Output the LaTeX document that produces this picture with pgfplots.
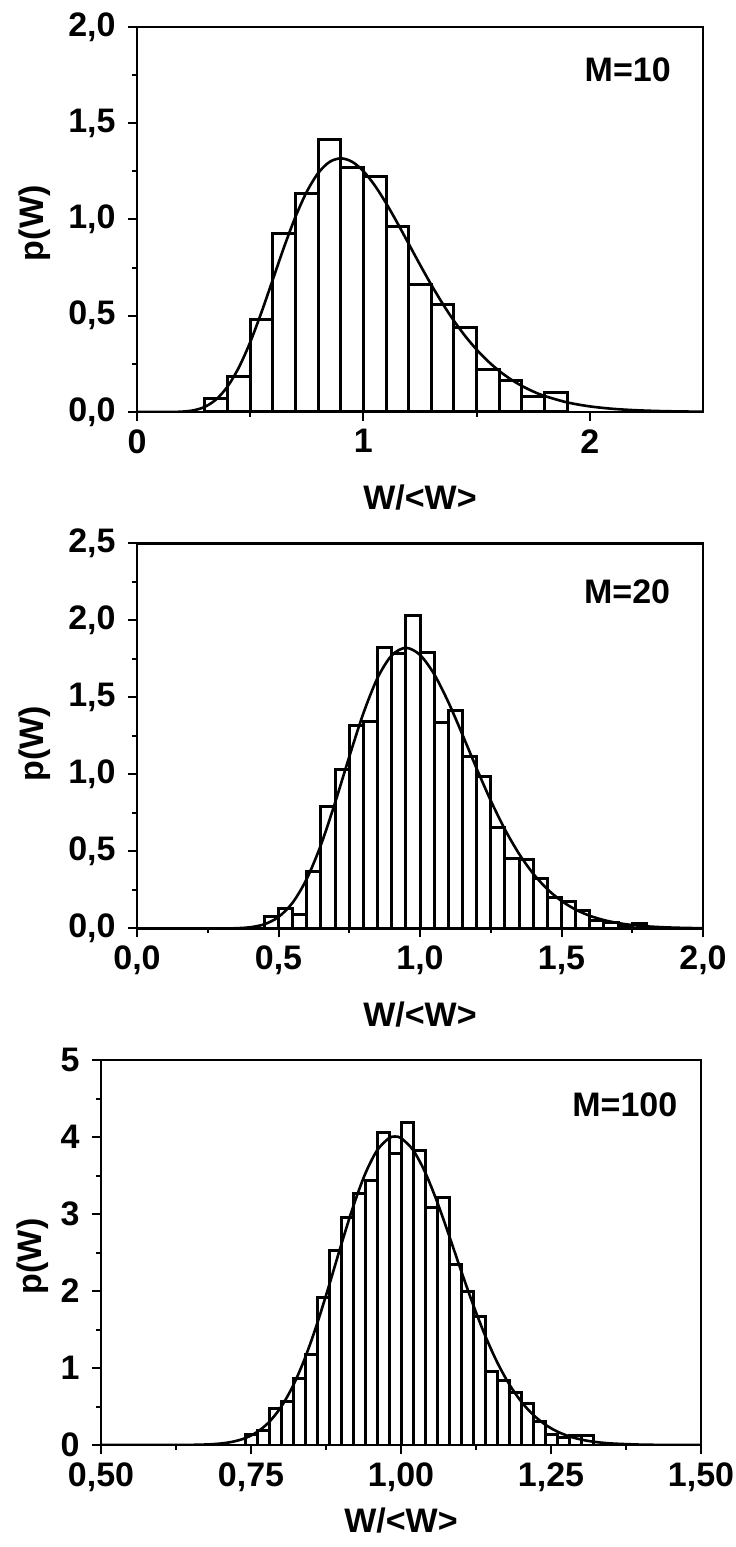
\documentclass[border=0pt]{standalone}
\usepackage{fontspec}
\setmainfont{Liberation Sans}
\usepackage{pgfplots}
\pgfplotsset{compat=1.18}
\newcommand\lbl{\fontsize{17}{20}\selectfont\bfseries}
\pgfplotsset{
  hist/.style={
    scale only axis, anchor=south west,
    axis line style={line width=1.2pt},
    tick align=outside, tick pos=left,
    major tick length=4.5pt, minor tick length=2.5pt,
    every tick/.append style={line width=1pt, black},
    tick label style={font=\lbl},
    /pgf/number format/assume math mode=true,
    xticklabel style={inner sep=0pt, yshift=-4pt},
    yticklabel style={inner sep=0pt, xshift=-6pt},
    label style={font=\lbl},
    xlabel style={at={(axis description cs:0.5,-0.2234)}, anchor=center},
    xlabel={W/<W>}, ylabel={p(W)},
  },
  bars/.style={ybar interval, fill=white, draw=black, line width=1.5pt},
  fit/.style={smooth, line width=1.3pt, black, no markers},
}
\begin{document}
\begin{tikzpicture}
\path[use as bounding box] (0,0) rectangle (367.5pt,773.5pt);
% ---------------- M=10
\begin{axis}[hist, at={(68.5pt,567.5pt)}, width=283pt, height=192.5pt,
  xmin=0, xmax=2.5, ymin=0, ymax=2,
  xtick={0,1,2}, minor xtick={0.5,1.5},
  ytick={0,0.5,1,1.5,2}, minor ytick={0.25,0.75,1.25,1.75},
  yticklabel style={/pgf/number format/fixed,/pgf/number format/fixed zerofill,/pgf/number format/precision=1,/pgf/number format/use comma},
  ylabel style={at={(axis description cs:-0.18,0.49)}, anchor=center}]
\addplot[bars] coordinates {(0.3,0.072)(0.4,0.186)(0.5,0.482)(0.6,0.927)(0.7,1.137)(0.8,1.418)(0.9,1.268)(1.0,1.224)(1.1,0.966)(1.2,0.664)(1.3,0.556)(1.4,0.44)(1.5,0.219)(1.6,0.163)(1.7,0.08)(1.8,0.10)(1.9,0)};
\addplot[fit] coordinates {(0,0)(0.1,0.00001)(0.15,0.0002)(0.2,0.0019)(0.25,0.0086)(0.3,0.027)(0.35,0.0656)(0.4,0.1323)(0.45,0.2316)(0.5,0.3626)(0.55,0.5186)(0.6,0.6883)(0.65,0.8581)(0.7,1.014)(0.75,1.1444)(0.8,1.2408)(0.85,1.2986)(0.9,1.3176)(0.95,1.3)(1.0,1.2511)(1.05,1.1772)(1.1,1.0852)(1.15,0.9821)(1.2,0.8737)(1.25,0.7651)(1.3,0.6606)(1.35,0.5627)(1.4,0.4735)(1.45,0.3938)(1.5,0.3241)(1.55,0.264)(1.6,0.2131)(1.65,0.1705)(1.7,0.1353)(1.75,0.1065)(1.8,0.0833)(1.9,0.0498)(2.0,0.0291)(2.1,0.0166)(2.2,0.0093)(2.3,0.0051)(2.4,0.0028)(2.5,0.0015)};
\node[font=\lbl] at (rel axis cs:0.867,0.888) {M=10};
\end{axis}
% ---------------- M=20
\begin{axis}[hist, at={(68.5pt,309.25pt)}, width=283pt, height=192.5pt,
  xmin=0, xmax=2, ymin=0, ymax=2.5,
  xtick={0,0.5,1,1.5,2}, minor xtick={0.25,0.75,1.25,1.75},
  ytick={0,0.5,1,1.5,2,2.5}, minor ytick={0.25,0.75,1.25,1.75,2.25},
  xticklabel style={/pgf/number format/fixed,/pgf/number format/fixed zerofill,/pgf/number format/precision=1,/pgf/number format/use comma},
  yticklabel style={/pgf/number format/fixed,/pgf/number format/fixed zerofill,/pgf/number format/precision=1,/pgf/number format/use comma},
  ylabel style={at={(axis description cs:-0.18,0.48)}, anchor=center}]
\addplot[bars] coordinates {(0.45,0.078)(0.50,0.13)(0.55,0.094)(0.60,0.368)(0.65,0.79)(0.70,1.035)(0.75,1.315)(0.80,1.345)(0.85,1.825)(0.90,1.787)(0.95,2.03)(1.00,1.795)(1.05,1.335)(1.10,1.415)(1.15,1.12)(1.20,0.984)(1.25,0.655)(1.30,0.455)(1.35,0.445)(1.40,0.325)(1.45,0.202)(1.50,0.178)(1.55,0.116)(1.60,0.055)(1.65,0.04)(1.70,0.02)(1.75,0.033)(1.80,0)};
\addplot[fit] coordinates {(0,0)(0.2,0)(0.25,0.00002)(0.3,0.0002)(0.35,0.0017)(0.4,0.008)(0.45,0.0274)(0.5,0.0746)(0.55,0.1679)(0.6,0.3227)(0.65,0.5432)(0.7,0.8171)(0.75,1.1149)(0.8,1.3979)(0.85,1.6271)(0.9,1.7734)(0.95,1.8225)(1.0,1.7766)(1.05,1.6516)(1.1,1.4705)(1.15,1.2587)(1.2,1.0396)(1.25,0.8306)(1.3,0.6437)(1.35,0.4851)(1.4,0.3562)(1.45,0.2552)(1.5,0.1788)(1.55,0.1226)(1.6,0.0825)(1.65,0.0544)(1.7,0.0353)(1.75,0.0225)(1.8,0.0142)(1.85,0.0088)(1.9,0.0054)(1.95,0.0032)(2.0,0.0019)};
\node[font=\lbl] at (rel axis cs:0.866,0.874) {M=20};
\end{axis}
% ---------------- M=100
\begin{axis}[hist, at={(50.5pt,51pt)}, width=300pt, height=192.5pt,
  xmin=0.5, xmax=1.5, ymin=0, ymax=5,
  xtick={0.5,0.75,1,1.25,1.5}, minor xtick={0.625,0.875,1.125,1.375},
  ytick={0,1,2,3,4,5}, minor ytick={0.5,1.5,2.5,3.5,4.5},
  xticklabel style={/pgf/number format/fixed,/pgf/number format/fixed zerofill,/pgf/number format/precision=2,/pgf/number format/use comma},
  xlabel style={at={(axis description cs:0.5,-0.195)}, anchor=center},
  ylabel style={at={(axis description cs:-0.113,0.49)}, anchor=center}]
\addplot[bars] coordinates {(0.74,0.13)(0.76,0.19)(0.78,0.47)(0.80,0.56)(0.82,0.86)(0.84,1.18)(0.86,1.92)(0.88,2.52)(0.90,2.95)(0.92,3.26)(0.94,3.44)(0.96,4.06)(0.98,3.78)(1.00,4.19)(1.02,3.82)(1.04,3.09)(1.06,3.21)(1.08,2.34)(1.10,2.00)(1.12,1.67)(1.14,0.95)(1.16,0.84)(1.18,0.68)(1.20,0.54)(1.22,0.30)(1.24,0.14)(1.26,0.10)(1.28,0.12)(1.30,0.12)(1.32,0)};
\addplot[fit] coordinates {(0.5,0)(0.55,0)(0.6,0.0001)(0.65,0.0019)(0.68,0.0082)(0.70,0.0197)(0.72,0.0433)(0.74,0.0883)(0.76,0.1676)(0.78,0.2968)(0.80,0.4925)(0.82,0.7682)(0.84,1.1296)(0.86,1.5704)(0.88,2.0694)(0.90,2.5912)(0.92,3.0895)(0.94,3.5157)(0.96,3.8244)(0.98,3.9857)(0.99,4.0061)(1.00,3.9861)(1.02,3.8317)(1.04,3.5456)(1.06,3.1626)(1.08,2.7236)(1.10,2.2672)(1.12,1.8265)(1.14,1.4257)(1.16,1.0794)(1.18,0.7936)(1.20,0.5671)(1.22,0.3942)(1.24,0.2668)(1.26,0.1761)(1.28,0.1133)(1.30,0.0712)(1.32,0.0436)(1.35,0.0201)(1.40,0.005)(1.45,0.0011)(1.50,0.0002)};
\node[font=\lbl] at (rel axis cs:0.873,0.883) {M=100};
\end{axis}
\end{tikzpicture}
\end{document}
